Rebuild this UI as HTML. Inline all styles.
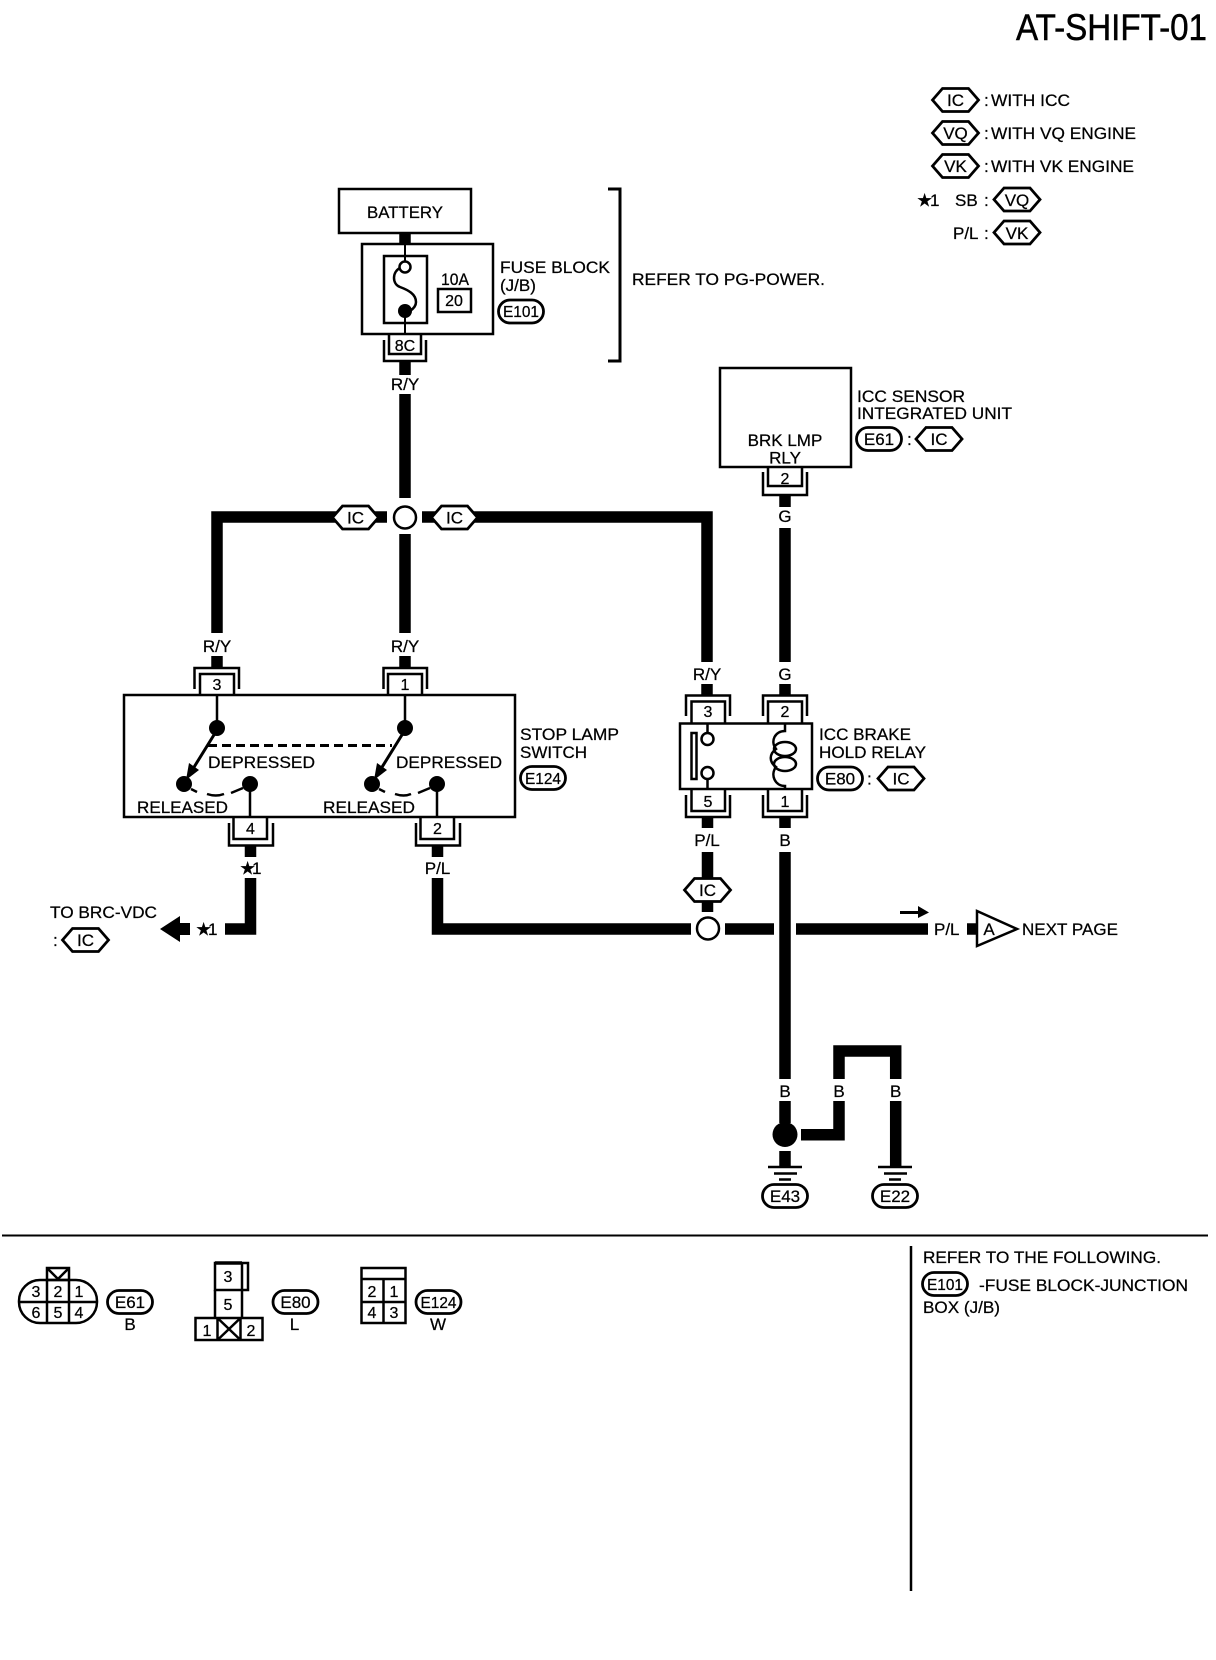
<!DOCTYPE html>
<html><head><meta charset="utf-8"><title>AT-SHIFT-01</title>
<style>
html,body{margin:0;padding:0;background:#fff}
svg{display:block}
text{font-family:"Liberation Sans",sans-serif;font-size:17px;fill:#000;stroke:#000;stroke-width:.25px}
.c{text-anchor:middle}
.n{font-size:16px;text-anchor:middle}
.w{fill:none;stroke:#000;stroke-width:11.5}
.t{fill:none;stroke:#000;stroke-width:2.5}
.b{fill:#fff;stroke:#000;stroke-width:2.5}
.s{font-size:17px;stroke-width:.5px}
</style></head><body>
<svg xmlns="http://www.w3.org/2000/svg" width="1216" height="1660" viewBox="0 0 1216 1660">
<defs>
<polygon id="h" points="-23,0 -13,-11.5 13,-11.5 23,0 13,11.5 -13,11.5" fill="#fff" stroke="#000" stroke-width="2.8"/>
<rect id="o" x="-22.5" y="-11.5" width="45" height="23" rx="11.5" fill="#fff" stroke="#000" stroke-width="2.8"/>
</defs>
<rect width="1216" height="1660" fill="#fff"/>

<!-- title -->
<text x="1016" y="40" style="font-size:37px;stroke-width:.5px" textLength="191" lengthAdjust="spacingAndGlyphs">AT-SHIFT-01</text>

<!-- legend -->
<use href="#h" x="955.5" y="100"/><text class="c" x="955.5" y="106">IC</text>
<use href="#h" x="955.5" y="133"/><text class="c" x="955.5" y="139">VQ</text>
<use href="#h" x="955.5" y="166"/><text class="c" x="955.5" y="172">VK</text>
<text x="984" y="106">:</text><text x="991" y="106" textLength="79" lengthAdjust="spacingAndGlyphs">WITH ICC</text>
<text x="984" y="139">:</text><text x="991" y="139" textLength="145" lengthAdjust="spacingAndGlyphs">WITH VQ ENGINE</text>
<text x="984" y="172">:</text><text x="991" y="172" textLength="143" lengthAdjust="spacingAndGlyphs">WITH VK ENGINE</text>
<text class="s" x="917" y="206">★</text><text x="930" y="206">1</text>
<text x="955" y="206">SB</text><text x="984" y="206">:</text>
<use href="#h" x="1017" y="199.5"/><text class="c" x="1017" y="206">VQ</text>
<text x="953" y="239">P/L</text><text x="984" y="239">:</text>
<use href="#h" x="1017" y="232.5"/><text class="c" x="1017" y="239">VK</text>

<!-- battery + fuse -->
<rect class="t" x="339" y="189" width="132" height="44"/>
<text class="c" x="405" y="218" textLength="76" lengthAdjust="spacingAndGlyphs">BATTERY</text>
<path class="w" d="M405 233V243"/>
<rect class="t" x="362" y="244" width="131" height="90"/>
<rect class="t" x="384" y="256" width="43" height="67"/>
<path class="t" d="M405 244V261M405 311V334" style="stroke-width:2"/>
<path class="t" d="M400 268C392 272 392 284 400 287C408 290 416 294 416 302C416 306 413 309 410 311"/>
<circle cx="405" cy="267" r="5.5" fill="#fff" stroke="#000" stroke-width="2.5"/>
<circle cx="405" cy="311" r="7"/>
<text x="441" y="285" textLength="28" lengthAdjust="spacingAndGlyphs">10A</text>
<rect class="t" x="438" y="289" width="33" height="23"/>
<text class="n" x="454" y="306">20</text>
<text x="500" y="273" textLength="110" lengthAdjust="spacingAndGlyphs">FUSE BLOCK</text>
<text x="500" y="291">(J/B)</text>
<use href="#o" x="521" y="311.5"/><text class="c" x="521" y="317" style="font-size:16px" textLength="36" lengthAdjust="spacingAndGlyphs">E101</text>
<path class="t" d="M608 189H620V361H608" style="stroke-width:3"/>
<text x="632" y="285" textLength="193" lengthAdjust="spacingAndGlyphs">REFER TO PG-POWER.</text>
<path class="t" d="M389 334V354H421V334M384 340V361H426V340"/>
<text class="n" x="405" y="351">8C</text>
<path class="w" d="M405 362V375M405 394V498"/>
<text class="c" x="405" y="390">R/Y</text>

<!-- top junction -->
<path class="w" d="M217 633V517H387M422 517H707V662"/>
<path class="w" d="M405 534V633"/>
<circle cx="405" cy="517.5" r="11" fill="#fff" stroke="#000" stroke-width="2.5"/>
<use href="#h" x="355.500" y="517.500"/><text class="c" x="355.500" y="523.500">IC</text>
<use href="#h" x="454.500" y="517.500"/><text class="c" x="454.500" y="523.500">IC</text>

<!-- ICC sensor -->
<rect class="t" x="720" y="368" width="131" height="99"/>
<text class="c" x="785" y="446">BRK LMP</text>
<text class="c" x="785" y="463.5">RLY</text>
<text x="857" y="402" textLength="108" lengthAdjust="spacingAndGlyphs">ICC SENSOR</text>
<text x="857" y="419" textLength="155" lengthAdjust="spacingAndGlyphs">INTEGRATED UNIT</text>
<use href="#o" x="879" y="439"/><text class="c" x="879" y="445">E61</text>
<text x="907" y="445">:</text>
<use href="#h" x="939" y="439"/><text class="c" x="939" y="445">IC</text>
<path class="t" d="M768 467V486H802V467M763 472V495H807V472"/>
<text class="n" x="785" y="484">2</text>
<path class="w" d="M785 496V507M785 528V662M785 684V695"/>
<text class="c" x="785" y="522">G</text>
<text class="c" x="785" y="680">G</text>
<text class="c" x="707" y="680">R/Y</text>
<path class="w" d="M707 684V695"/>

<!-- stop lamp switch -->
<text class="c" x="217" y="652">R/Y</text>
<text class="c" x="405" y="652">R/Y</text>
<path class="w" d="M217 656V667M405 656V667"/>
<path class="t" d="M194.500 689V668H239V689M200 695V674H234V695"/>
<path class="t" d="M383.500 689V668H427V689M388 695V674H422V695"/>
<text class="n" x="217" y="690">3</text>
<text class="n" x="405" y="690">1</text>
<rect class="t" x="124" y="695" width="391" height="122"/>
<path class="t" d="M217 695V728M405 695V728M250 784V817M437 784V817"/>
<circle cx="217" cy="728" r="8"/><circle cx="405" cy="728" r="8"/>
<circle cx="184" cy="784" r="8"/><circle cx="250" cy="784" r="8"/>
<circle cx="372" cy="784" r="8"/><circle cx="437" cy="784" r="8"/>
<path class="t" d="M217 730L191 772M405 730L379 772" style="stroke-width:3"/>
<polygon points="186,780 189,763 199,770"/><polygon points="374,780 377,763 387,770"/>
<path d="M208 745.500H392" fill="none" stroke="#000" stroke-width="3" stroke-dasharray="9 5"/>
<path class="t" d="M191 789L197 792M207 794Q216 797 224 794M231 793L243 788M379 789L385 792M395 794Q404 797 411 794M418 793L430 788"/>
<text x="208" y="768" textLength="107" lengthAdjust="spacingAndGlyphs">DEPRESSED</text>
<text x="396" y="768" textLength="106" lengthAdjust="spacingAndGlyphs">DEPRESSED</text>
<text x="137" y="813" textLength="91" lengthAdjust="spacingAndGlyphs">RELEASED</text>
<text x="323" y="813" textLength="92" lengthAdjust="spacingAndGlyphs">RELEASED</text>
<text x="520" y="740" textLength="99" lengthAdjust="spacingAndGlyphs">STOP LAMP</text>
<text x="520" y="758">SWITCH</text>
<use href="#o" x="543" y="778"/><text class="c" x="543" y="784" style="font-size:16px" textLength="36" lengthAdjust="spacingAndGlyphs">E124</text>
<path class="t" d="M233.500 817V839H267V817M229 823V845.500H273V823"/>
<path class="t" d="M420.500 817V839H454V817M416 823V845.500H460V823"/>
<text class="n" x="250.500" y="834">4</text>
<text class="n" x="437.500" y="834">2</text>
<path class="w" d="M250.500 846V857M437.500 846V857"/>
<text class="s" x="240" y="874">★</text><text x="252" y="874">1</text>
<text class="c" x="437.500" y="874">P/L</text>

<!-- left lower wire -->
<path class="w" d="M250.500 878V929H225"/>
<text class="s" x="196" y="935">★</text><text x="208" y="935">1</text>
<path d="M160 929L180 916V923H190V935H180V942Z"/>
<text x="50" y="918" textLength="107" lengthAdjust="spacingAndGlyphs">TO BRC-VDC</text>
<text x="53" y="946">:</text>
<use href="#h" x="85.500" y="940"/><text class="c" x="85.500" y="946">IC</text>

<!-- relay -->
<path class="t" d="M686 716V695.500H730V716M691.500 723V701.500H725V723"/>
<path class="t" d="M763 716V695.500H807V716M768 723V701.500H802V723"/>
<text class="n" x="708" y="717">3</text>
<text class="n" x="785" y="717">2</text>
<rect class="t" x="680" y="723.500" width="132" height="65.500"/>
<rect x="691.500" y="733" width="5" height="46" fill="#fff" stroke="#000" stroke-width="2.500"/>
<path class="t" d="M707.500 723V733M707.500 779V789"/>
<circle cx="707.500" cy="739" r="6" fill="#fff" stroke="#000" stroke-width="2.500"/>
<circle cx="707.500" cy="773" r="6" fill="#fff" stroke="#000" stroke-width="2.500"/>
<path class="t" d="M785 723V731C775 731 770 741 776 749C769 754 769 762 776 767C770 775 775 786 785 786V789"/>
<ellipse class="t" cx="785" cy="749" rx="11" ry="7"/>
<ellipse class="t" cx="785" cy="764" rx="11" ry="7"/>
<path class="t" d="M691.500 789V811H725V789M686 795V817H730V795"/>
<path class="t" d="M768 789V811H802V789M763 795V817H807V795"/>
<text class="n" x="708" y="807">5</text>
<text class="n" x="785" y="807">1</text>
<text x="819" y="740" textLength="92" lengthAdjust="spacingAndGlyphs">ICC BRAKE</text>
<text x="819" y="758" textLength="107" lengthAdjust="spacingAndGlyphs">HOLD RELAY</text>
<use href="#o" x="840" y="778.500"/><text class="c" x="840" y="784.500">E80</text>
<text x="867" y="784.500">:</text>
<use href="#h" x="901" y="778.500"/><text class="c" x="901" y="784.500">IC</text>
<path class="w" d="M707.500 817V828M707.500 852V878M707.500 901V912M785 817V828M785 852V1079"/>
<text class="c" x="707" y="846">P/L</text>
<text class="c" x="785" y="846">B</text>
<use href="#h" x="707.500" y="890"/><text class="c" x="707.500" y="896">IC</text>

<!-- P/L row -->
<path class="w" d="M437.500 878V929H691M725 929H774M796 929H928"/>
<circle cx="708" cy="928.500" r="11" fill="#fff" stroke="#000" stroke-width="2.500"/>
<path d="M900 911H918V906L929 912.500L918 918V914H900Z"/>
<text x="934" y="935">P/L</text>
<path class="w" d="M967 929H978"/>
<polygon points="977,911 1017,929 977,946" fill="#fff" stroke="#000" stroke-width="2.500"/>
<text class="c" x="989" y="935">A</text>
<text x="1022" y="935" textLength="96" lengthAdjust="spacingAndGlyphs">NEXT PAGE</text>

<!-- ground -->
<path class="w" d="M839 1079V1051H895.700V1079M839 1101V1134.700H801M895.700 1101V1166M785 1101V1123M785 1151V1166"/>
<text class="c" x="785" y="1097">B</text><text class="c" x="839" y="1097">B</text><text class="c" x="895.700" y="1097">B</text>
<circle cx="785" cy="1134.500" r="12.500"/>
<path d="M768 1167H802M774 1173.500H797M779 1179.500H791M878 1167H912M884 1173.500H907M889 1179.500H901" fill="none" stroke="#000" stroke-width="2.500"/>
<use href="#o" x="785" y="1196"/><text class="c" x="785" y="1202">E43</text>
<use href="#o" x="895" y="1196"/><text class="c" x="895" y="1202">E22</text>

<!-- divider -->
<path d="M2 1235.500H1208" fill="none" stroke="#000" stroke-width="2"/>
<path d="M911 1246V1591" fill="none" stroke="#000" stroke-width="2.500"/>
<text x="923" y="1263" textLength="238" lengthAdjust="spacingAndGlyphs">REFER TO THE FOLLOWING.</text>
<use href="#o" x="945" y="1284"/><text class="c" x="945" y="1290" style="font-size:16px" textLength="36" lengthAdjust="spacingAndGlyphs">E101</text>
<text x="979" y="1291" textLength="209" lengthAdjust="spacingAndGlyphs">-FUSE BLOCK-JUNCTION</text>
<text x="923" y="1313" textLength="77" lengthAdjust="spacingAndGlyphs">BOX (J/B)</text>

<!-- connector views -->
<rect class="t" x="47" y="1268" width="22" height="12"/>
<path class="t" d="M48 1269L58 1279L68 1269"/>
<rect class="t" x="19" y="1280" width="78" height="43" rx="21"/>
<path class="t" d="M19 1302H97M47 1280V1323M69 1280V1323"/>
<text class="n" x="36" y="1297">3</text><text class="n" x="58" y="1297">2</text><text class="n" x="79" y="1297">1</text>
<text class="n" x="36" y="1318">6</text><text class="n" x="58" y="1318">5</text><text class="n" x="79" y="1318">4</text>
<use href="#o" x="130" y="1302"/><text class="c" x="130" y="1308">E61</text>
<text class="c" x="130" y="1330">B</text>

<rect class="t" x="215" y="1263" width="33" height="27"/>
<path class="t" d="M242 1263V1290M215 1290V1318M242 1290V1318"/>
<path d="M215 1263H242" fill="none" stroke="#000" stroke-width="3.500"/>
<text class="n" x="228" y="1282">3</text><text class="n" x="228" y="1310">5</text>
<rect class="t" x="195.500" y="1318" width="67" height="22"/>
<path class="t" d="M217.500 1318V1340M240.500 1318V1340M217.500 1318L240.500 1340M240.500 1318L217.500 1340"/>
<text class="n" x="207" y="1336">1</text><text class="n" x="251" y="1336">2</text>
<use href="#o" x="295.500" y="1302"/><text class="c" x="295.500" y="1308">E80</text>
<text class="c" x="294.500" y="1330">L</text>

<rect class="t" x="361.500" y="1268" width="44" height="55"/>
<path class="t" d="M361.500 1279H405.500M361.500 1302H405.500M383.500 1279V1323"/>
<text class="n" x="372" y="1297">2</text><text class="n" x="394" y="1297">1</text>
<text class="n" x="372" y="1318">4</text><text class="n" x="394" y="1318">3</text>
<use href="#o" x="438.500" y="1302"/><text class="c" x="438.500" y="1308" style="font-size:16px" textLength="36" lengthAdjust="spacingAndGlyphs">E124</text>
<text class="c" x="438" y="1330">W</text>
</svg>
</body></html>
